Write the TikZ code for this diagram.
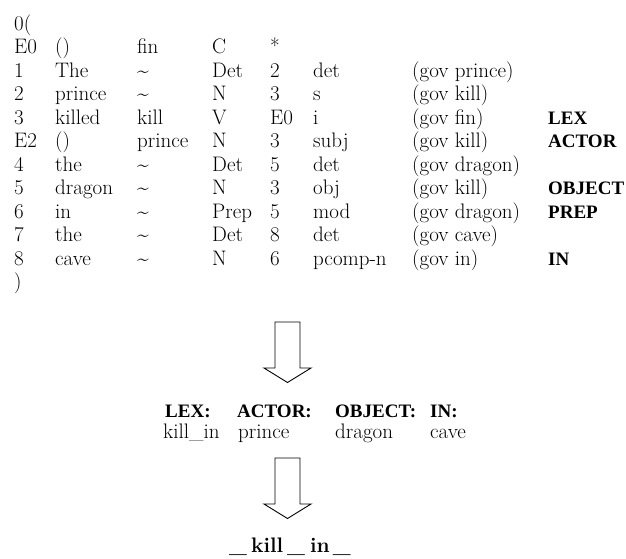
\documentclass[tikz,border=0pt]{standalone}
\usepackage{fontspec}
\newfontfamily\tagfont{Liberation Serif}
\newcommand\swung{\textasciitilde}
\begin{document}
\begin{tikzpicture}[x=1pt,y=-1pt]
\tikzset{
  cell/.style={anchor=base west, inner sep=0pt, font=\fontsize{21}{25}\selectfont},
  tag/.style={anchor=base west, inner sep=0pt, font=\tagfont\fontsize{19}{22}\selectfont\bfseries},
  result/.style={anchor=base west, inner sep=0pt, font=\fontsize{21}{25}\selectfont\bfseries},
  blockarrow/.style={draw=black, line width=0.9pt, line join=miter, fill=white},
  pics/downarrow/.style={code={
    \draw[blockarrow] (-12.5,0) -- (12.5,0) -- (12.5,46) -- (23.5,46)
      -- (0,60.5) -- (-23.5,46) -- (-12.5,46) -- cycle;
  }}
}
\useasboundingbox (0,0) rectangle (626,558);
% column positions of the dependency table
\def\ca{14}\def\cb{55}\def\cc{137}\def\cd{212}
\def\ce{270}\def\cf{313}\def\cg{412}\def\ch{548}
\newcommand\tabrow[9]{%
  \pgfmathsetmacro\rowy{53.5+23.5*#1}%
  \node[cell] (r#1a) at (\ca,\rowy) {#2};
  \node[cell] (r#1b) at (\cb,\rowy) {#3};
  \node[cell] (r#1c) at (\cc,\rowy) {#4};
  \node[cell] (r#1d) at (\cd,\rowy) {#5};
  \node[cell] (r#1e) at (\ce,\rowy) {#6};
  \node[cell] (r#1f) at (\cf,\rowy) {#7};
  \node[cell] (r#1g) at (\cg,\rowy) {#8};
  \node[tag]  (r#1h) at (\ch,\rowy) {#9};
}
\node[cell] (open) at (\ca,30) {0(};
\tabrow{0}{E0}{()}{fin}{C}{*}{}{}{}
\tabrow{1}{1}{The}{\swung}{Det}{2}{det}{(gov prince)}{}
\tabrow{2}{2}{prince}{\swung}{N}{3}{s}{(gov kill)}{}
\tabrow{3}{3}{killed}{kill}{V}{E0}{i}{(gov fin)}{LEX}
\tabrow{4}{E2}{()}{prince}{N}{3}{subj}{(gov kill)}{ACTOR}
\tabrow{5}{4}{the}{\swung}{Det}{5}{det}{(gov dragon)}{}
\tabrow{6}{5}{dragon}{\swung}{N}{3}{obj}{(gov kill)}{OBJECT}
\tabrow{7}{6}{in}{\swung}{Prep}{5}{mod}{(gov dragon)}{PREP}
\tabrow{8}{7}{the}{\swung}{Det}{8}{det}{(gov cave)}{}
\tabrow{9}{8}{cave}{\swung}{N}{6}{pcomp-n}{(gov in)}{IN}
\node[cell] (close) at (\ca,288.5) {)};
% first transformation step
\pic at (287.5,322) {downarrow};
% extracted frame
\node[tag]  (lex)    at (165,417) {LEX:};
\node[tag]  (actor)  at (237,417) {ACTOR:};
\node[tag]  (object) at (335,417) {OBJECT:};
\node[tag]  (in)     at (430,417) {IN:};
\node[cell] (lexv)    at (163,438) {kill\_in};
\node[cell] (actorv)  at (238,438) {prince};
\node[cell] (objectv) at (335,438) {dragon};
\node[cell] (inv)     at (430,438) {cave};
% second transformation step
\pic at (287.5,458) {downarrow};
\node[result] (pattern) at (229,552)
  {\_\hspace{4pt}kill\hspace{4pt}\_\hspace{5pt}in\hspace{3pt}\_};
\end{tikzpicture}
\end{document}
